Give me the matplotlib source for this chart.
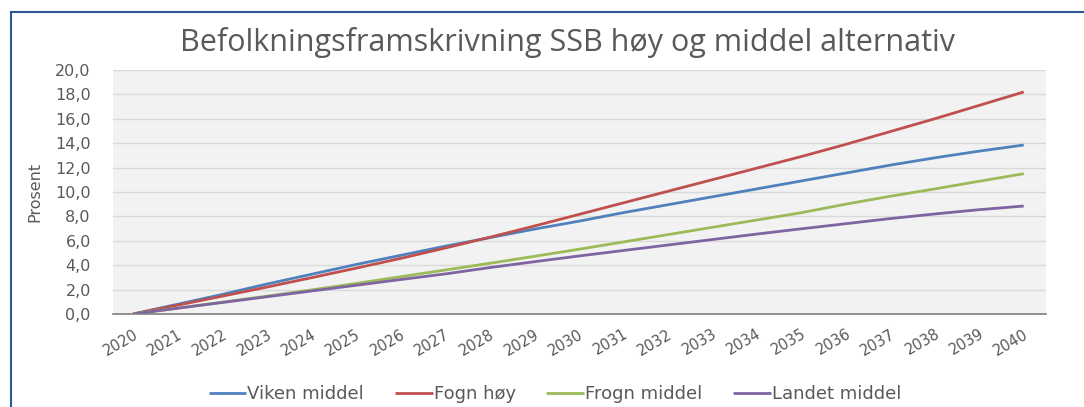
import matplotlib.pyplot as plt
from matplotlib.lines import Line2D

# data (prosent vekst fra 2020)
years = list(range(2020, 2041))
viken_middel = [0.0, 0.80, 1.60, 2.45, 3.25, 4.05, 4.80, 5.55, 6.25, 6.95, 7.60,
                8.30, 8.95, 9.60, 10.25, 10.90, 11.55, 12.20, 12.80, 13.35, 13.85]
fogn_hoy = [0.0, 0.72, 1.46, 2.20, 2.97, 3.75, 4.55, 5.40, 6.28, 7.20, 8.15,
            9.10, 10.05, 11.00, 11.95, 12.90, 13.90, 14.95, 16.00, 17.10, 18.20]
frogn_middel = [0.0, 0.48, 0.97, 1.46, 1.97, 2.50, 3.05, 3.60, 4.15, 4.72, 5.30,
                5.90, 6.50, 7.10, 7.70, 8.30, 9.00, 9.65, 10.25, 10.88, 11.50]
landet_middel = [0.0, 0.47, 0.94, 1.41, 1.88, 2.35, 2.82, 3.28, 3.80, 4.28, 4.75,
                 5.20, 5.65, 6.10, 6.55, 6.98, 7.40, 7.82, 8.20, 8.55, 8.85]

series = [("Viken middel", viken_middel, "#4F81BD"),
          ("Fogn høy", fogn_hoy, "#C0504D"),
          ("Frogn middel", frogn_middel, "#9BBB59"),
          ("Landet middel", landet_middel, "#8064A2")]

grey = "#595959"

fig = plt.figure(figsize=(10.84, 4.07), dpi=100)
ax = fig.add_axes([113/1084, 1-314/407, (1046-113)/1084, (314-70)/407])
ax.set_facecolor("#F2F2F2")

for navn, vals, farge in series:
    ax.plot(years, vals, color=farge, lw=2.0, label=navn, solid_capstyle="butt")

ax.set_xlim(2019.55, 2040.5)
ax.set_ylim(0, 20)
ax.set_yticks(range(0, 21, 2))
ax.set_yticklabels([f"{v:.1f}".replace(".", ",") for v in range(0, 21, 2)],
                   fontsize=11.5, color=grey)
ax.set_xticks(years)
ax.set_xticklabels([str(y) for y in years], rotation=30, ha="right",
                   rotation_mode="anchor", fontsize=10.5, color=grey)
ax.tick_params(axis="both", length=0)
ax.tick_params(axis="y", pad=16)
ax.tick_params(axis="x", pad=9)
ax.grid(axis="y", color="#D9D9D9", lw=1)
ax.set_axisbelow(True)
for s in ["left", "right", "top"]:
    ax.spines[s].set_visible(False)
ax.spines["bottom"].set_color("#7F7F7F")
ax.spines["bottom"].set_linewidth(1.2)

ax.set_ylabel("Prosent", fontsize=11.5, color=grey,
              family=["Liberation Sans Narrow", "DejaVu Sans"])
ax.yaxis.set_label_coords(-0.076, 0.5)

fig.text(567/1084, 1-43/407, "Befolkningsframskrivning SSB høy og middel alternativ",
         ha="center", va="center", fontsize=22, color=grey, family="Open Sans")

fig.legend(loc="center", bbox_to_anchor=(555/1084, 1-394/407), ncol=4,
           frameon=False, fontsize=13, handlelength=2.1, handletextpad=0.05,
           columnspacing=1.7, labelcolor=grey)

# blå ramme oppe og til venstre
fig.add_artist(Line2D([11/1084, 1], [1-12/407, 1-12/407], color="#2F5597", lw=1.5,
                      transform=fig.transFigure))
fig.add_artist(Line2D([11/1084, 11/1084], [0, 1-12/407], color="#2F5597", lw=1.5,
                      transform=fig.transFigure))

fig.savefig("out.png", dpi=100)
